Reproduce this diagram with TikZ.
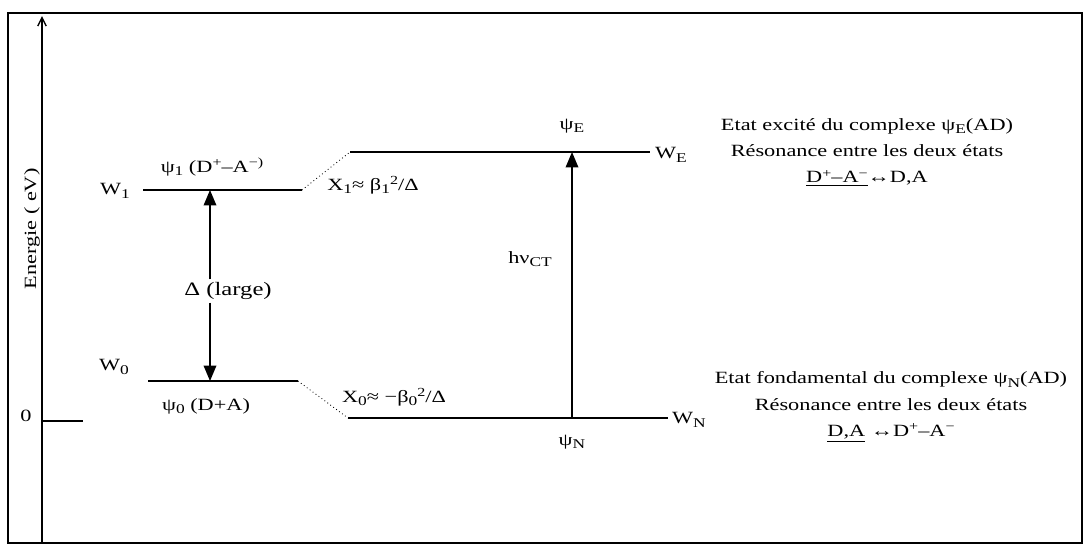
\documentclass[tikz,border=0pt]{standalone}
\usepackage{fontspec}
\setmainfont{Liberation Serif}[FakeStretch=1.3]
\usetikzlibrary{arrows.meta, positioning, calc}

\newcommand{\lo}[1]{\raisebox{-0.45ex}{\scalebox{0.78}{#1}}}
\newcommand{\hi}[1]{\raisebox{0.75ex}{\scalebox{0.72}{#1}}}

\begin{document}
\begin{tikzpicture}[x=0.025cm, y=-0.025cm,
    level/.style={line width=1.2pt},
    link/.style={dotted, line width=0.6pt},
    trans/.style={-{Triangle[width=9pt,length=11pt]}, line width=1pt},
    lbl/.style={font=\fontsize{12.2}{15}\selectfont, inner sep=1pt},
    big/.style={font=\fontsize{13.5}{16}\selectfont, inner sep=2pt},
    note/.style={font=\fontsize{12.2}{18.8}\selectfont, align=center},
]
  \useasboundingbox (0,0) rectangle (1087,549);
  \draw[line width=1pt] (8,13) rectangle (1082,543);

  % energy axis
  \coordinate (ax0) at (42,543);
  \coordinate (ax1) at (42,16);
  \coordinate (zero) at (42,421);
  \coordinate (zeroend) at (83,421);
  \draw[line width=1pt, -{Straight Barb[length=6pt,width=6pt]}] (ax0) -- (ax1);
  \draw[line width=1pt] (zero) -- (zeroend);
  \node[lbl] (zlab) at (26,416) {0};
  \node[lbl, rotate=90] (elab) at (32,229) {Energie ( eV)};

  % levels
  \coordinate (w1a) at (143,190);
  \coordinate (w1b) at (302,190);
  \coordinate (wea) at (350,152);
  \coordinate (web) at (650,152);
  \coordinate (w0a) at (148,381);
  \coordinate (w0b) at (298,381);
  \coordinate (wna) at (348,418);
  \coordinate (wnb) at (668,418);
  \draw[level] (w1a) -- (w1b);
  \draw[level] (wea) -- (web);
  \draw[level] (w0a) -- (w0b);
  \draw[level] (wna) -- (wnb);
  \draw[link] (w1b) -- (wea);
  \draw[link] (w0b) -- (wna);

  \node[lbl] (w1) at (115,191) {W\lo{1}};
  \node[lbl] (w0) at (114,367) {W\lo{0}};
  \node[lbl] (we) at (671,155) {W\lo{E}};
  \node[lbl] (wn) at (689,420) {W\lo{N}};

  \node[lbl] (psi1) at (212,167) {ψ\lo{1} (D\hi{+}–A\hi{−)}};
  \node[lbl] (psi0) at (206,406) {ψ\lo{0} (D+A)};
  \node[lbl] (x1) at (373,185) {X\lo{1}≈ β\lo{1}\hi{2}/Δ};
  \node[lbl] (x0) at (394,397) {X\lo{0}≈ −β\lo{0}\hi{2}/Δ};

  % gap between the two configurations
  \node[big] (gap) at (228,291) {Δ (large)};
  \coordinate (gtop) at (210,190);
  \coordinate (gbot) at (210,381);
  \draw[trans] (gap.north -| gtop) -- (gtop);
  \draw[trans] (gap.south -| gbot) -- (gbot);

  % charge transfer band
  \coordinate (ctlo) at (572,418);
  \coordinate (cthi) at (572,152);
  \draw[trans] (ctlo) -- (cthi);
  \node[lbl] (hv) at (530,259) {hν\lo{CT}};
  \node[lbl] (psie) at (572,126) {ψ\lo{E}};
  \node[lbl] (psin) at (572,442) {ψ\lo{N}};

  \node[note] (exc) at (867,152) {Etat excité du complexe ψ\lo{E}(AD)\\
    Résonance entre les deux états\\
    \underline{D\hi{+}–A\hi{−}}↔D,A};
  \node[note] (fond) at (891,407) {Etat fondamental du complexe ψ\lo{N}(AD)\\
    Résonance entre les deux états\\
    \underline{D,A} ↔D\hi{+}–A\hi{−}};
\end{tikzpicture}
\end{document}
